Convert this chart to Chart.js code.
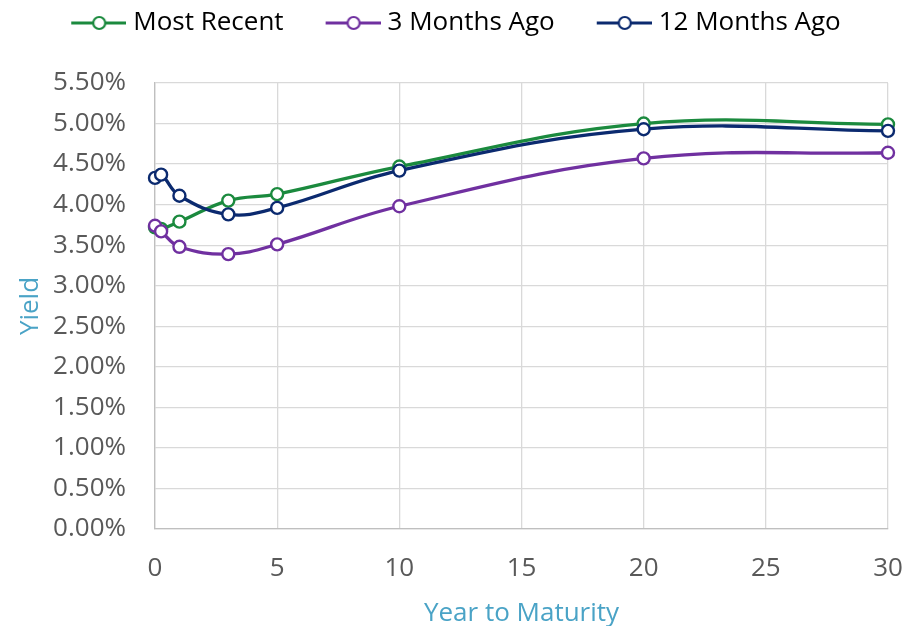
<!DOCTYPE html>
<html lang="en">
<head>
  <meta charset="UTF-8" />
  <title>Yield Curve</title>
  <script src="https://cdn.jsdelivr.net/npm/chart.js"></script>
  <style>
    body {
      margin: 0;
      background: #ffffff;
    }
    .wrap {
      width: 907px;
      height: 626px;
    }
  </style>
</head>
<body>
  <div class="wrap"><canvas id="yieldChart"></canvas></div>

  <script>
    // years to maturity
    const maturities = [0, 0.25, 1, 3, 5, 10, 20, 30];
    const mostRecent = [3.72, 3.70, 3.79, 4.05, 4.13, 4.47, 5.00, 4.99];
    const threeMonthsAgo = [3.74, 3.67, 3.48, 3.39, 3.51, 3.98, 4.57, 4.64];
    const twelveMonthsAgo = [4.33, 4.37, 4.11, 3.88, 3.96, 4.42, 4.93, 4.91];
    const seriesNames = ["Most Recent", "3 Months Ago", "12 Months Ago"];
    const xTicks = [0, 5, 10, 15, 20, 25, 30];
    const yTicks = [0, 0.5, 1, 1.5, 2, 2.5, 3, 3.5, 4, 4.5, 5, 5.5];

    const colors = ["#1b8a3e", "#7030a0", "#0b2a6f"];
    const font = "'Open Sans', sans-serif";

    // legend marker: short line with an open circle, blank space on the left
    function legendMarker(color) {
      const c = document.createElement("canvas");
      c.width = 93;
      c.height = 20;
      const g = c.getContext("2d");
      g.strokeStyle = color;
      g.lineWidth = 3;
      g.beginPath();
      g.moveTo(38, 10);
      g.lineTo(93, 10);
      g.stroke();
      g.beginPath();
      g.arc(66, 10, 6, 0, Math.PI * 2);
      g.fillStyle = "#ffffff";
      g.fill();
      g.lineWidth = 2.2;
      g.stroke();
      return c;
    }

    const toPoints = arr => arr.map((v, i) => ({ x: maturities[i], y: v }));

    const allSeries = [mostRecent, threeMonthsAgo, twelveMonthsAgo];
    const drawOrder = [3, 2, 1];

    const datasets = allSeries.map((s, i) => ({
      label: seriesNames[i],
      data: toPoints(s),
      borderColor: colors[i],
      backgroundColor: "#ffffff",
      borderWidth: 3.3,
      pointRadius: 6,
      pointBorderWidth: 2.4,
      pointBackgroundColor: "#ffffff",
      pointBorderColor: colors[i],
      tension: 0.4,
      clip: false,
      order: drawOrder[i],
      marker: legendMarker(colors[i])
    }));

    // room under the legend and a small nudge to the left
    const legendGap = {
      id: "legendGap",
      beforeInit(chart) {
        const fit = chart.legend.fit;
        chart.legend.fit = function () {
          fit.bind(chart.legend)();
          this.height += 37;
          this.lineWidths[0] += 27;
        };
      }
    };

    new Chart(document.getElementById("yieldChart"), {
      type: "line",
      data: { datasets: datasets },
      plugins: [legendGap],
      options: {
        responsive: true,
        maintainAspectRatio: false,
        animation: false,
        layout: { padding: 0 },
        plugins: {
          tooltip: { enabled: false },
          legend: {
            position: "top",
            labels: {
              font: { family: font, size: 26 },
              color: "#000000",
              usePointStyle: true,
              pointStyleWidth: 81,
              padding: 10,
              sort: (a, b) => a.datasetIndex - b.datasetIndex,
              generateLabels(chart) {
                return chart.data.datasets.map((ds, i) => ({
                  text: ds.label,
                  pointStyle: ds.marker,
                  fillStyle: ds.borderColor,
                  strokeStyle: ds.borderColor,
                  lineWidth: 0,
                  fontColor: "#000000",
                  datasetIndex: i,
                  hidden: false
                }));
              }
            }
          }
        },
        scales: {
          x: {
            type: "linear",
            min: 0,
            max: 30,
            afterBuildTicks: axis => { axis.ticks = xTicks.map(v => ({ value: v })); },
            afterFit: axis => { axis.height = 97; axis.paddingRight = 19; },
            grid: { color: "#d9d9d9", lineWidth: 1.3, drawTicks: false },
            border: { color: "#bfbfbf", width: 1.3 },
            ticks: {
              color: "#595959",
              font: { family: font, size: 26 },
              padding: 24,
              maxRotation: 0
            },
            title: {
              display: true,
              text: "Year to Maturity",
              color: "#4aa3c6",
              font: { family: font, size: 26 },
              padding: { top: 0, bottom: -3 }
            }
          },
          y: {
            min: 0,
            max: 5.5,
            afterBuildTicks: axis => { axis.ticks = yTicks.map(v => ({ value: v })); },
            afterFit: axis => { axis.width = 155; },
            grid: { color: "#d9d9d9", lineWidth: 1.3, drawTicks: false },
            border: { color: "#bfbfbf", width: 1.3 },
            ticks: {
              color: "#595959",
              font: { family: font, size: 26 },
              padding: 29,
              callback: v => v.toFixed(2) + "%"
            },
            title: {
              display: true,
              text: "Yield",
              color: "#4aa3c6",
              font: { family: font, size: 26 },
              padding: { top: 15, bottom: 0 }
            }
          }
        }
      }
    });
  </script>
</body>
</html>
